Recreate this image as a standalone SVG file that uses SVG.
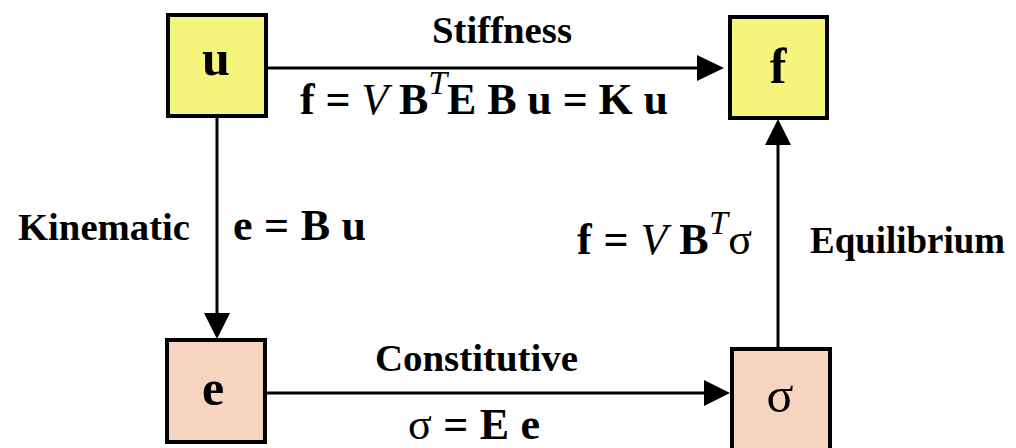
<svg xmlns="http://www.w3.org/2000/svg" width="1016" height="448" viewBox="0 0 1016 448">
<style>
.box{stroke:#000;stroke-width:4}
.y{fill:#F5F57C}
.p{fill:#F7D5C0}
.t{font-family:"Liberation Serif","Times New Roman",serif;font-weight:bold;font-size:38px;fill:#000}
.m{font-size:44px}
.L{font-size:50px}
.it{font-style:italic;font-weight:normal}
.n{font-weight:normal}
.c{stroke:#000;stroke-width:3;fill:none}
</style>
<rect width="1016" height="448" fill="#fff"/>
<g id="connectors">
<line class="c" x1="266" y1="68" x2="697" y2="68"/><path d="M697,55 L724,68 L697,81 Z"/>
<line class="c" x1="217" y1="116" x2="217" y2="313"/><path d="M204,313 L217,339 L230,313 Z"/>
<line class="c" x1="267" y1="393" x2="704" y2="393"/><path d="M704,380 L730,393 L704,406 Z"/>
<line class="c" x1="778" y1="348" x2="778" y2="145"/><path d="M765,145 L778,119 L791,145 Z"/>
</g>
<g id="node-u"><rect class="box y" x="168" y="15" width="98" height="101"/><text class="t L" x="216" y="75" text-anchor="middle">u</text></g>
<g id="node-f"><rect class="box y" x="730" y="17" width="97" height="101"/><text class="t L" x="778" y="83" text-anchor="middle">f</text></g>
<g id="node-e"><rect class="box p" x="167" y="340" width="98" height="102"/><text class="t L" x="213" y="405" text-anchor="middle">e</text></g>
<g id="node-sigma"><rect class="box p" x="732" y="349" width="98" height="102"/><text class="t L n" x="780" y="412" text-anchor="middle">σ</text></g>
<g id="labels">
<text class="t" x="432" y="43" textLength="140" lengthAdjust="spacingAndGlyphs">Stiffness</text>
<text class="t m" x="300" y="114" textLength="368" lengthAdjust="spacing">f = <tspan class="it">V</tspan> B<tspan class="it" dy="-20" font-size="34">T</tspan><tspan dy="20">E B u = K u</tspan></text>
<text class="t" x="18" y="240" textLength="172" lengthAdjust="spacingAndGlyphs">Kinematic</text>
<text class="t m" x="233" y="240" textLength="133" lengthAdjust="spacing">e = B u</text>
<text class="t m" x="577" y="254" textLength="175" lengthAdjust="spacing">f = <tspan class="it">V</tspan> B<tspan class="it" dy="-20" font-size="34">T</tspan><tspan class="n" dy="20">σ</tspan></text>
<text class="t" x="810" y="253" textLength="195" lengthAdjust="spacingAndGlyphs">Equilibrium</text>
<text class="t" x="375" y="371" textLength="203" lengthAdjust="spacingAndGlyphs">Constitutive</text>
<text class="t m" x="408" y="439" textLength="132" lengthAdjust="spacing"><tspan class="n">σ</tspan> = E e</text>
</g>
</svg>
